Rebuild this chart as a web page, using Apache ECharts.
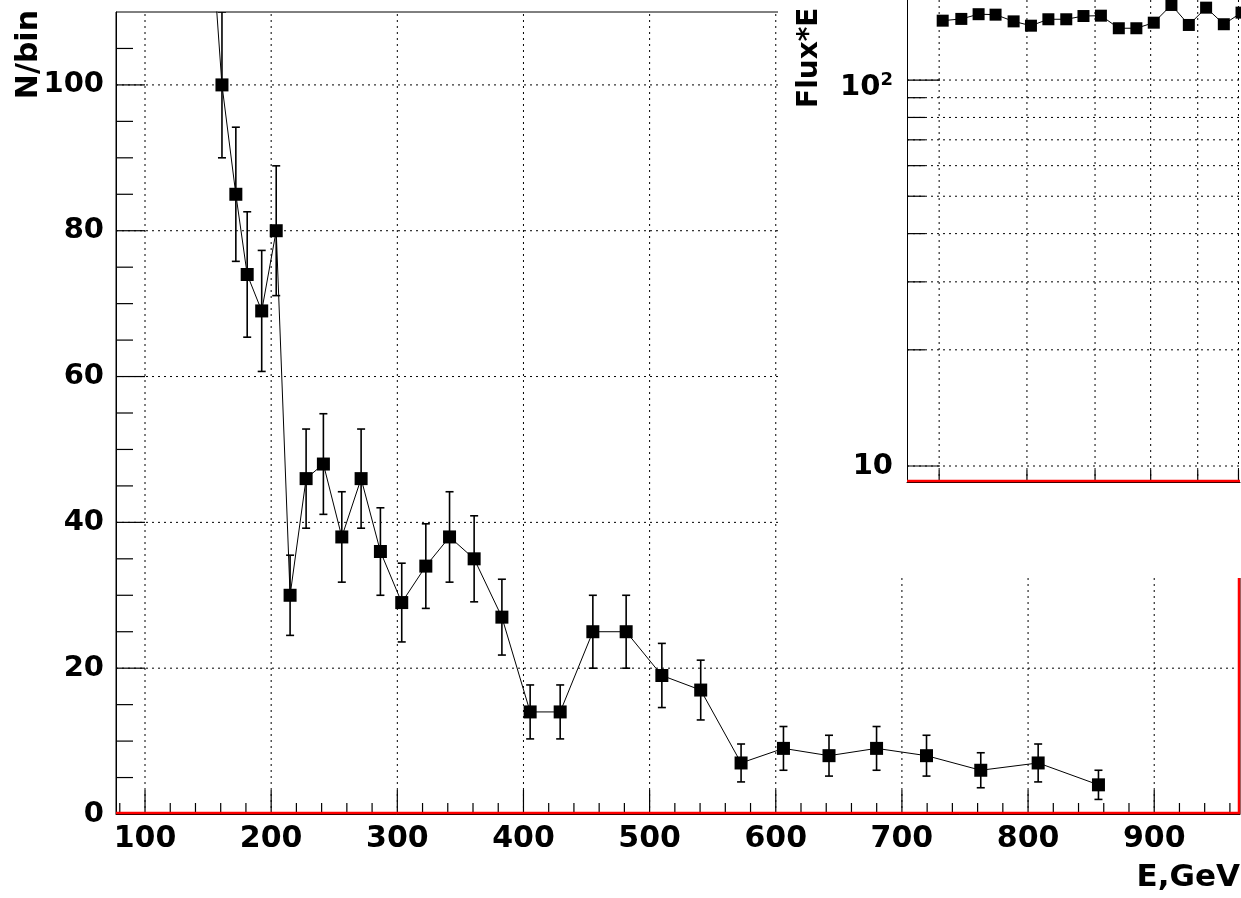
<!DOCTYPE html>
<html><head><meta charset="utf-8">
<script src="https://cdn.jsdelivr.net/npm/echarts@6/dist/echarts.min.js"></script>
<style>html,body{margin:0;padding:0;background:#fff}#c{width:1241px;height:898px}</style>
</head><body><div id="c"></div>
<script>
// ---- data ----
const energy   = [152,161,172,181,192.5,204,215,227.7,241.4,256,271.3,286.6,303.5,322.6,341.4,360.9,382.9,405.3,429.1,455,481.4,509.7,540.5,572.5,606.1,642.2,679.9,719.5,762.5,808,855.8];
const counts   = [122,100,85,74,69,80,30,46,48,38,46,36,29,34,38,35,27,14,14,25,25,19,17,7,9,8,9,8,6,7,4];
const countErr = [11.0,10.0,9.2,8.6,8.3,8.9,5.5,6.8,6.9,6.2,6.8,6.0,5.4,5.8,6.2,5.9,5.2,3.7,3.7,5.0,5.0,4.4,4.1,2.6,3.0,2.8,3.0,2.8,2.4,2.6,2.0];
const xTickLabels = [100,200,300,400,500,600,700,800,900];
const yTickLabels = [0,20,40,60,80,100];

const insetEnergy = [303.5,322.6,341.4,360.9,382.9,405.3,429.1,455,481.4,509.7,540.5,572.5,606.1,642.2,679.9,719.5,762.5,808];
const insetFlux   = [142.5,144.0,148.1,147.7,141.9,138.3,143.7,143.7,146.5,146.8,136.2,136.2,140.8,156.5,138.9,154.0,139.5,149.5];
const insetXTicks = [300,400,500,600,700,800];
const insetYMajor = [10,100];
const insetYMinor = [20,30,40,50,60,70,80,90];

// ---- axis ranges ----
const X_MIN = 77, X_MAX = 968, Y_MIN = 0, Y_MAX = 110;
const IX_MIN = 270, IX_MAX = 804, IY_MIN = 9.09, IY_MAX = 161.2;

const FONT = '"DejaVu Sans", "Liberation Sans", sans-serif';

// minor tick values (every 20 GeV / every 5 counts, skipping major ones)
const xMinor = [];
for (let v = 80; v < X_MAX; v += 20) if (v % 100 !== 0) xMinor.push(v);
const yMinor = [];
for (let v = 5; v < Y_MAX; v += 5) if (v % 20 !== 0) yMinor.push(v);
const yMajorGrid = yTickLabels.filter(v => v > 0);

const dotted = { stroke: '#000', lineWidth: 1, lineDash: [2, 4] };

function tickLayer(gi, vals, dir, len, withGrid, ext, z) {
  return {
    type: 'custom', xAxisIndex: gi, yAxisIndex: gi, silent: true, clip: false, z: z,
    data: vals.map(v => [v, v]),
    renderItem: function (params, api) {
      const v = api.value(0);
      const cs = params.coordSys;
      let a, b, t;
      if (dir === 'x') {
        a = api.coord([v, ext.y0]); a[1] = cs.y + cs.height;
        b = [a[0], cs.y]; t = [a[0], a[1] - len];
      } else {
        a = api.coord([ext.x0, v]); a[0] = cs.x;
        b = [cs.x + cs.width, a[1]]; t = [a[0] + len, a[1]];
      }
      const ch = [];
      if (withGrid) ch.push({ type: 'line', shape: { x1: a[0], y1: a[1], x2: b[0], y2: b[1] }, style: dotted });
      ch.push({ type: 'line', shape: { x1: a[0], y1: a[1], x2: t[0], y2: t[1] }, style: { stroke: '#000', lineWidth: 1.2 } });
      return { type: 'group', children: ch };
    }
  };
}

// red frame (bottom + optional right side) of a pad, drawn from the axis extents
function redFrame(gi, withRight, z) {
  return {
    type: 'custom', xAxisIndex: gi, yAxisIndex: gi, silent: true, clip: false, z: z,
    data: [[0, 0]],
    renderItem: function (params, api) {
      const cs = params.coordSys;
      const st = { stroke: '#ff0000', lineWidth: 2.5 };
      const yb = cs.y + cs.height - 1, xr = cs.x + cs.width - 1;
      const ch = [{ type: 'line', shape: { x1: cs.x, y1: yb, x2: cs.x + cs.width, y2: yb }, style: st }];
      if (withRight) ch.push({ type: 'line', shape: { x1: xr, y1: cs.y, x2: xr, y2: cs.y + cs.height }, style: st });
      return { type: 'group', children: ch };
    }
  };
}

const mainExt = { x0: X_MIN, x1: X_MAX, y0: Y_MIN, y1: Y_MAX };
const insetExt = { x0: IX_MIN, x1: IX_MAX, y0: IY_MIN, y1: IY_MAX };

const chart = echarts.init(document.getElementById('c'), null, { renderer: 'canvas' });
chart.setOption({
  animation: false,
  backgroundColor: '#fff',
  grid: [
    { left: 116, top: 12, width: 1124, height: 802, show: true, backgroundColor: '#fff', borderColor: '#000', borderWidth: 1 },
    { left: 907, top: 0, width: 333, height: 482, show: false }
  ],
  xAxis: [
    { type: 'value', gridIndex: 0, min: X_MIN, max: X_MAX,
      axisLine: { show: true, lineStyle: { color: '#000', width: 1 } },
      axisTick: { show: false }, splitLine: { show: false },
      axisLabel: { customValues: xTickLabels, color: '#000', fontFamily: FONT, fontWeight: 'bold', fontSize: 30, margin: 10 } },
    { type: 'log', gridIndex: 1, min: IX_MIN, max: IX_MAX, z: 10,
      axisLine: { show: true, lineStyle: { color: '#000', width: 1 } },
      axisTick: { show: false }, splitLine: { show: false }, axisLabel: { show: false } }
  ],
  yAxis: [
    { type: 'value', gridIndex: 0, min: Y_MIN, max: Y_MAX, interval: 20,
      axisLine: { show: true, lineStyle: { color: '#000', width: 1 } },
      axisTick: { show: false }, splitLine: { show: false },
      axisLabel: { showMaxLabel: false, color: '#000', fontFamily: FONT, fontWeight: 'bold', fontSize: 29, margin: 12 } },
    { type: 'log', gridIndex: 1, min: IY_MIN, max: IY_MAX, z: 10,
      axisLine: { show: true, lineStyle: { color: '#000', width: 1 } },
      axisTick: { show: false }, splitLine: { show: false },
      axisLabel: {
        showMinLabel: false, showMaxLabel: false, margin: 14, color: '#000',
        formatter: function (v) {
          const r = Math.round(v);
          if (r === 100) return '{b|10}{s|2}';
          if (r === 10) return '{b|10}';
          return '';
        },
        rich: {
          b: { fontFamily: FONT, fontWeight: 'bold', fontSize: 29, lineHeight: 29, verticalAlign: 'bottom', color: '#000' },
          s: { fontFamily: FONT, fontWeight: 'bold', fontSize: 18, lineHeight: 44, verticalAlign: 'middle', color: '#000' }
        }
      } }
  ],
  graphic: [
    { type: 'rect', z: 5, silent: true, shape: { x: 778, y: 0, width: 470, height: 578 }, style: { fill: '#fff' } },
    { type: 'text', z: 1, x: 29, y: 10, rotation: Math.PI / 2, silent: true,
      style: { text: 'N/bin', font: 'bold 30px ' + FONT, fill: '#000', textAlign: 'right', textVerticalAlign: 'middle' } },
    { type: 'text', z: 1, x: 1240, y: 878, silent: true,
      style: { text: 'E,GeV', font: 'bold 31px ' + FONT, fill: '#000', textAlign: 'right', textVerticalAlign: 'middle' } },
    { type: 'text', z: 20, x: 810, y: 108, rotation: Math.PI / 2, silent: true,
      style: { text: 'Flux*E', font: 'bold 28px ' + FONT, fill: '#000', textAlign: 'left', textVerticalAlign: 'middle' } }
  ],
  series: [
    tickLayer(0, xTickLabels, 'x', 24, true, mainExt, 1),
    tickLayer(0, xMinor, 'x', 11, false, mainExt, 1),
    tickLayer(0, yMajorGrid, 'y', 29, true, mainExt, 1),
    tickLayer(0, yMinor, 'y', 17, false, mainExt, 1),
    {
      type: 'custom', xAxisIndex: 0, yAxisIndex: 0, clip: true, silent: true, z: 3,
      data: energy.map((e, i) => [e, counts[i] - countErr[i], counts[i] + countErr[i]]),
      renderItem: function (params, api) {
        const e = api.value(0);
        const p1 = api.coord([e, api.value(1)]), p2 = api.coord([e, api.value(2)]);
        const w = 4, st = { stroke: '#000', lineWidth: 1.6 };
        return { type: 'group', children: [
          { type: 'line', shape: { x1: p1[0], y1: p1[1], x2: p2[0], y2: p2[1] }, style: st },
          { type: 'line', shape: { x1: p1[0] - w, y1: p1[1], x2: p1[0] + w, y2: p1[1] }, style: st },
          { type: 'line', shape: { x1: p2[0] - w, y1: p2[1], x2: p2[0] + w, y2: p2[1] }, style: st }
        ] };
      }
    },
    {
      type: 'line', xAxisIndex: 0, yAxisIndex: 0, z: 4, clip: true, silent: true,
      data: energy.map((e, i) => [e, counts[i]]),
      symbol: 'rect', symbolSize: 13, showAllSymbol: true,
      itemStyle: { color: '#000' }, lineStyle: { color: '#000', width: 1 }
    },
    redFrame(0, true, 4),
    tickLayer(1, insetXTicks, 'x', 12, true, insetExt, 11),
    tickLayer(1, insetYMajor, 'y', 33, true, insetExt, 11),
    tickLayer(1, insetYMinor, 'y', 18, true, insetExt, 11),
    {
      type: 'line', xAxisIndex: 1, yAxisIndex: 1, z: 12, clip: false, silent: true,
      data: insetEnergy.map((e, i) => [e, insetFlux[i]]),
      symbol: 'rect', symbolSize: 12, showAllSymbol: true,
      itemStyle: { color: '#000' }, lineStyle: { color: '#000', width: 1 }
    },
    redFrame(1, false, 12)
  ]
});
</script></body></html>
